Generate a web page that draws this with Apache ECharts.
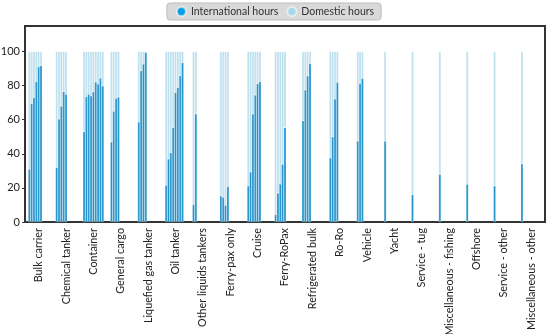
<!DOCTYPE html>
<html>
<head>
<meta charset="utf-8">
<script src="https://cdn.jsdelivr.net/npm/echarts@6/dist/echarts.min.js"></script>
<style>html,body{margin:0;padding:0;background:#fff;}#c{width:550px;height:334px;}</style>
</head>
<body>
<div id="c"></div>
<script>
const categories = ['Bulk carrier','Chemical tanker','Container','General cargo','Liquefied gas tanker','Oil tanker','Other liquids tankers','Ferry-pax only','Cruise','Ferry-RoPax','Refrigerated bulk','Ro-Ro','Vehicle','Yacht','Service - tug','Miscellaneous - fishing','Offshore','Service - other','Miscellaneous - other'];

// International share (%) per size bin, one list per category
const internationalHours = [
  [31, 69.6, 73, 82.4, 91.2, 91.8],
  [32, 60.4, 68, 76.5, 75],
  [53, 73.6, 75, 74, 76.5, 82.2, 81, 84.5, 79.8],
  [47, 65, 72.6, 73.3],
  [58.7, 88.7, 92.7, 99.6],
  [21.6, 37, 40.6, 55.3, 76, 79, 85.8, 93.5],
  [10.3, 63.4],
  [15.3, 14.6, 9.8, 20.9],
  [21.2, 29.4, 63.4, 74.5, 81.2, 82.4],
  [4.4, 17, 22.3, 33.9, 55.3],
  [59.4, 77.5, 85.7, 92.8],
  [37.6, 50, 72.2, 82],
  [47.5, 81.4, 84.3],
  [47.5],
  [16.1],
  [28],
  [22.2],
  [21.2],
  [34.1]
];
const yTicks = [0, 20, 40, 60, 80, 100];
const seriesNames = ['International hours', 'Domestic hours'];

const MAX_BINS = Math.max(...internationalHours.map(a => a.length));
const C_INT = '#2392cb', C_DOM = '#bde0ef';
const series = [];
for (let b = 0; b < MAX_BINS; b++) {
  series.push({
    name: seriesNames[0], type: 'bar', stack: 's' + b, barGap: 0, barCategoryGap: '23%',
    itemStyle: { color: C_INT, borderColor: 'rgba(255,255,255,0.55)', borderWidth: 0.4 },
    data: internationalHours.map(a => a[b] == null ? '-' : a[b])
  });
  series.push({
    name: seriesNames[1], type: 'bar', stack: 's' + b, barGap: 0, barCategoryGap: '23%',
    itemStyle: { color: C_DOM, borderColor: 'rgba(255,255,255,0.55)', borderWidth: 0.4 },
    data: internationalHours.map(a => a[b] == null ? '-' : +(100 - a[b]).toFixed(1))
  });
}

const FONT = 'Lato';
const chart = echarts.init(document.getElementById('c'), null, { renderer: 'canvas' });
chart.setOption({
  animation: false,
  textStyle: { fontFamily: FONT },
  legend: {
    top: 3, left: 'center',
    data: [
      { name: seriesNames[0], itemStyle: { color: '#0a9de2' } },
      { name: seriesNames[1], itemStyle: { color: '#a8d6ea' } }
    ],
    icon: 'circle', itemWidth: 9, itemHeight: 9, itemGap: 8,
    backgroundColor: '#d9d9d9', borderColor: '#bdbdbd', borderWidth: 1, borderRadius: 3,
    padding: [3, 7, 3, 9],
    textStyle: { fontFamily: FONT, fontSize: 10.5, color: '#333' }
  },
  grid: { left: 25, right: 5, top: 26, bottom: 112, outerBoundsMode: 'none', show: true, borderColor: '#333', borderWidth: 2, backgroundColor: 'transparent' },
  xAxis: {
    type: 'category', data: categories,
    axisLine: { lineStyle: { color: '#333', width: 2 } },
    axisTick: { show: false },
    axisLabel: { rotate: 90, interval: 0, fontFamily: FONT, fontSize: 10.8, color: '#222', margin: 6 }
  },
  yAxis: {
    type: 'value', min: 0, max: 115, interval: 20,
    splitLine: { show: false },
    axisLine: { show: true, lineStyle: { color: '#333', width: 2 } },
    axisTick: { show: true, length: 3, customValues: yTicks, lineStyle: { color: '#333' } },
    axisLabel: { customValues: yTicks, fontFamily: FONT, fontSize: 11, color: '#222', margin: 5 }
  },
  series: series
});
</script>
</body>
</html>
